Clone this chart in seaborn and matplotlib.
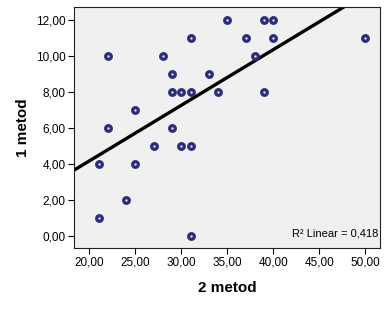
import numpy as np
import pandas as pd
import seaborn as sns
import matplotlib.pyplot as plt

metod2 = [22, 28, 31, 35, 37, 38, 39, 40, 40, 50, 29, 33, 29, 30, 31, 34, 39,
          25, 22, 29, 27, 30, 31, 21, 25, 24, 21, 31]
metod1 = [10, 10, 11, 12, 11, 10, 12, 12, 11, 11, 9, 9, 8, 8, 8, 8, 8,
          7, 6, 6, 5, 5, 5, 4, 4, 2, 1, 0]
xticks = [20, 25, 30, 35, 40, 45, 50]
yticks = [0, 2, 4, 6, 8, 10, 12]

df = pd.DataFrame({"2 metod": metod2, "1 metod": metod1})

sns.set_style("white", {"text.color": "black", "axes.labelcolor": "black",
                        "xtick.color": "black", "ytick.color": "black"})
plt.rcParams['font.family'] = ['Liberation Sans', 'DejaVu Sans']

fig = plt.figure(figsize=(3.86, 3.09), dpi=100)
ax = fig.add_axes([0.192, 0.198, 0.792, 0.78])
ax.set_facecolor('#f0f0f0')
ax.set_xlim(18.33, 51.6)
ax.set_ylim(-0.63, 12.72)

sns.regplot(data=df, x="2 metod", y="1 metod", ax=ax, ci=None, truncate=False,
            scatter_kws=dict(s=34, color='#2b2b7d', edgecolor='#2b2b7d', linewidths=0.5,
                             alpha=1, zorder=3),
            line_kws=dict(color='black', lw=2.4, zorder=2))
ax.scatter(df["2 metod"], df["1 metod"], s=0.5, color='#e8e8f0', zorder=4)

ax.set_xticks(xticks)
ax.set_xticklabels([f"{v:.2f}".replace('.', ',') for v in xticks], fontsize=8.5)
ax.set_yticks(yticks)
ax.set_yticklabels([f"{v:.2f}".replace('.', ',') for v in yticks], fontsize=8.5)
ax.tick_params(axis='both', direction='out', length=4, width=0.8, color='black', pad=2,
               bottom=True, left=True)
for s in ax.spines.values():
    s.set_color('#222222')
    s.set_linewidth(0.8)

ax.set_xlabel("2 metod", fontsize=11, fontweight='bold', labelpad=9)
ax.set_ylabel("1 metod", fontsize=11, fontweight='bold', labelpad=4)

ax.text(0.995, 0.04, "R² Linear = 0,418", transform=ax.transAxes, ha='right', va='bottom',
        fontsize=8)

fig.savefig("out.png", dpi=100)
plt.close()
